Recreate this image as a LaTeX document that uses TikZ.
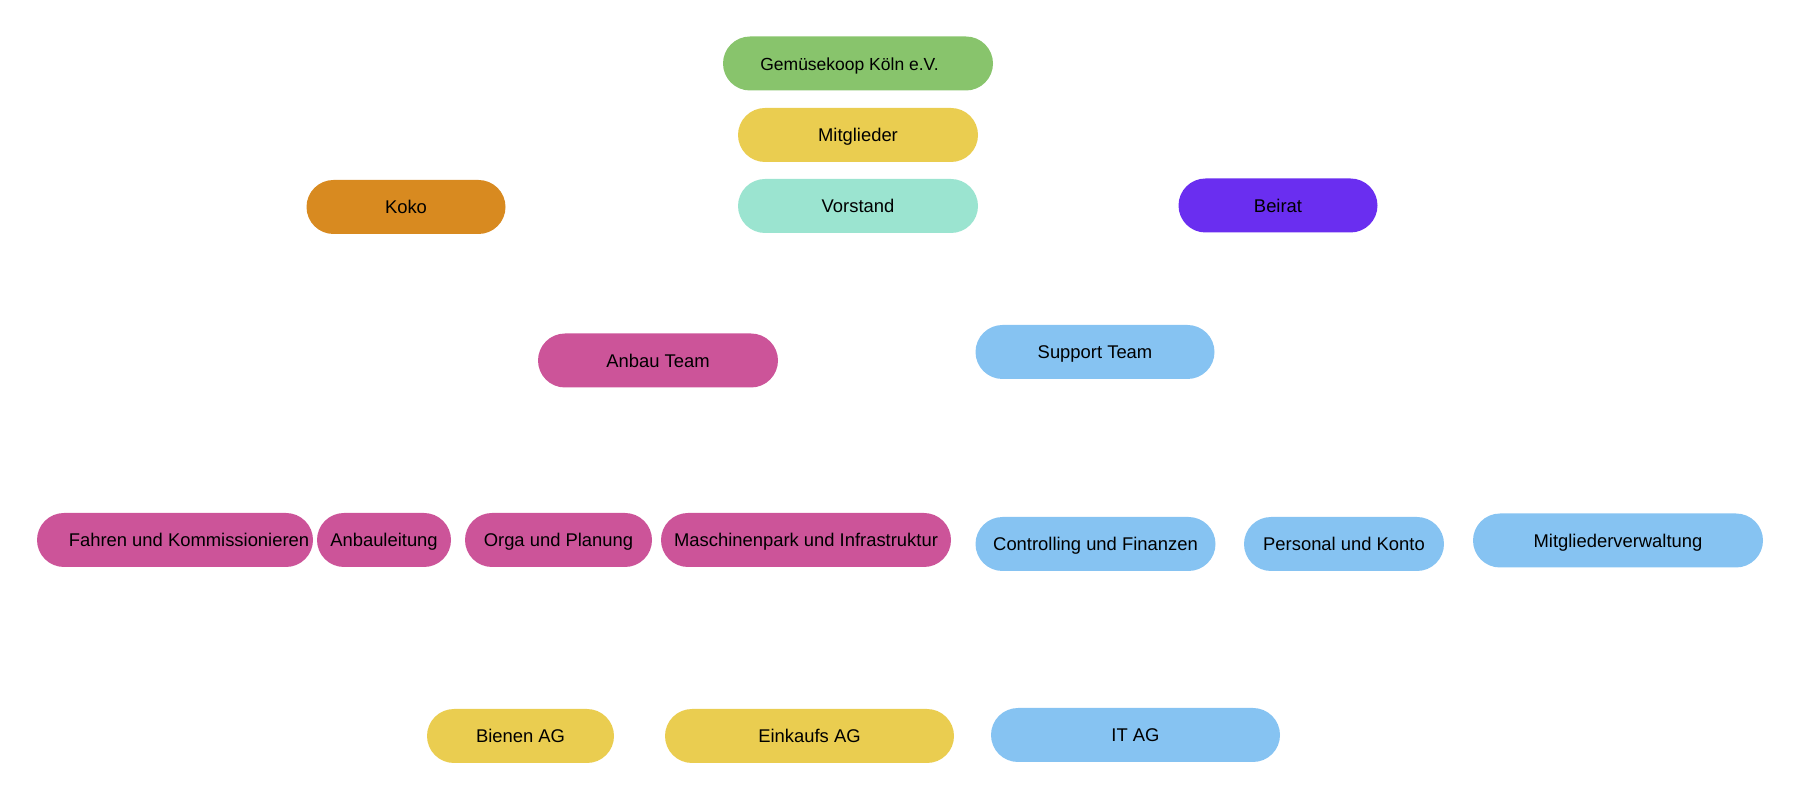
\documentclass[tikz,border=0pt]{standalone}
\usepackage{fontspec}
\setmainfont{Liberation Sans}
\definecolor{cgreen}{HTML}{88C46C}
\definecolor{cyellow}{HTML}{EACD50}
\definecolor{cmint}{HTML}{9BE4D0}
\definecolor{corange}{HTML}{D88A20}
\definecolor{cpurple}{HTML}{6A2EF0}
\definecolor{cpink}{HTML}{CC5499}
\definecolor{cblue}{HTML}{86C3F2}
\begin{document}
\begin{tikzpicture}[x=0.5pt,y=-0.5pt,
  pill/.style={draw=none, rounded corners=13.5pt, minimum height=27pt, inner sep=0pt,
    text height=6.6pt, text depth=0pt,
    font=\fontsize{9.2pt}{11pt}\selectfont, text=black}]
\useasboundingbox (0,0) rectangle (1800,801);
\node[pill, fill=cgreen, minimum width=135pt, font=\fontsize{8.75pt}{11pt}\selectfont] (gem) at (858,63.5) {\hspace{-8.5pt}Gemüsekoop Köln e.V.};
\node[pill, fill=cyellow, minimum width=120pt] (mit) at (858,135) {Mitglieder};
\node[pill, fill=cmint, minimum width=120pt] (vor) at (858,206) {Vorstand};
\node[pill, fill=corange, minimum width=99.5pt] (koko) at (406,207) {Koko};
\node[pill, fill=cpurple, minimum width=99.5pt] (beirat) at (1278,205.5) {Beirat};
\node[pill, fill=cpink, minimum width=120pt] (anbau) at (658,360.5) {Anbau Team};
\node[pill, fill=cblue, minimum width=119.5pt] (support) at (1095,352) {Support Team};
\node[pill, fill=cpink, minimum width=138pt] (fahren) at (175,540) {\hspace{14pt}Fahren und Kommissionieren};
\node[pill, fill=cpink, minimum width=67pt] (anbl) at (384,540) {Anbauleitung};
\node[pill, fill=cpink, minimum width=93.5pt] (orga) at (558.5,540) {Orga und Planung};
\node[pill, fill=cpink, minimum width=145pt] (masch) at (806,540) {Maschinenpark und Infrastruktur};
\node[pill, fill=cblue, minimum width=120pt] (contr) at (1095.5,544) {Controlling und Finanzen};
\node[pill, fill=cblue, minimum width=100pt] (pers) at (1344,544) {Personal und Konto};
\node[pill, fill=cblue, minimum width=145pt] (mverw) at (1618,540.5) {Mitgliederverwaltung};
\node[pill, fill=cyellow, minimum width=93.5pt] (bienen) at (520.5,736) {Bienen AG};
\node[pill, fill=cyellow, minimum width=144.5pt] (eink) at (809.5,736) {Einkaufs AG};
\node[pill, fill=cblue, minimum width=144.5pt] (it) at (1135.5,735) {IT AG};
\end{tikzpicture}
\end{document}
